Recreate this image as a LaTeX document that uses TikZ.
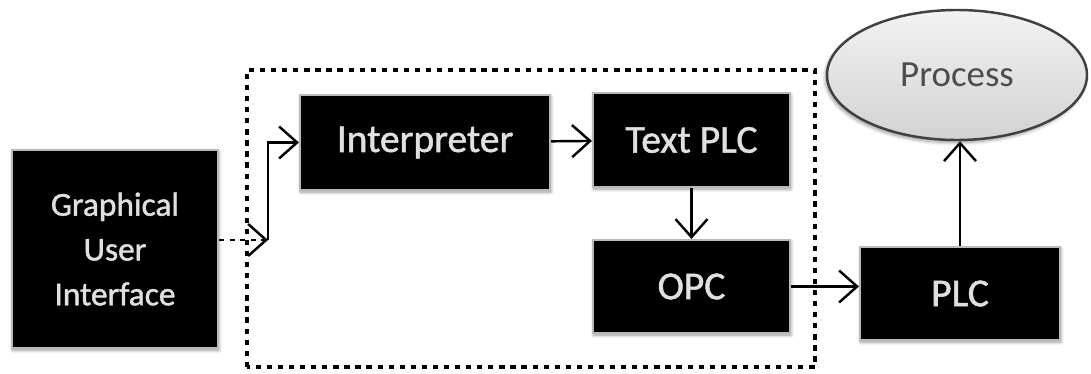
\documentclass[tikz,border=0pt]{standalone}
\usepackage{fontspec}
\setmainfont{Carlito}
\newfontfamily\boxfont[FakeBold=1.3]{Carlito}
\usetikzlibrary{arrows.meta,shapes.geometric,shadows.blur}

\tikzset{
  blackbox/.style={rectangle, fill=black, draw=gray!55, line width=1.2pt,
    text=white!88!black, font=\boxfont\fontsize{22.5}{27}\selectfont,
    blur shadow={shadow xshift=0.5pt, shadow yshift=-1.2pt, shadow blur steps=6},
    inner sep=0pt, align=center},
  flow/.style={line width=1.4pt, -{Straight Barb[length=3.6mm,width=6.4mm,line width=1.4pt]}},
  dotframe/.style={line width=2.4pt, dash pattern=on 3pt off 3.3pt}
}

\begin{document}
\begin{tikzpicture}
\useasboundingbox (0,0) rectangle (21.82,7.48);

% dotted group frame
\draw[dotframe] (4.94,0.14) rectangle (16.30,6.08);

% boxes
\node[blackbox, minimum width=4.12cm, minimum height=3.96cm,
      font=\boxfont\fontsize{19}{25.5}\selectfont] (gui) at (2.30,2.50) {Graphical\\User\\Interface};
\node[blackbox, minimum width=5.0cm, minimum height=1.9cm] (interp) at (8.50,4.63) {Interpreter};
\node[blackbox, minimum width=3.94cm, minimum height=1.88cm] (txtplc) at (13.83,4.68) {Text PLC};
\node[blackbox, minimum width=3.94cm, minimum height=1.86cm] (opc) at (13.83,1.75) {OPC};
\node[blackbox, minimum width=4.0cm, minimum height=1.86cm] (plc) at (19.20,1.61) {PLC};
\node[ellipse, minimum width=5.2cm, minimum height=2.6cm, inner sep=0pt,
      draw=black!75, line width=1.4pt, top color=gray!10, bottom color=gray!35,
      blur shadow={shadow xshift=-1pt, shadow yshift=-1.5pt, shadow blur steps=6},
      text=black!70, font=\fontsize{21}{25}\selectfont] (proc) at (19.14,5.98) {Process};

% connectors
\coordinate (jn) at (5.36,2.68);
\draw[flow, dashed] (gui.east |- jn) -- (jn);
\draw[flow] (jn) |- (interp.west);
\draw[flow] (interp) -- (txtplc);
\draw[flow] (txtplc) -- (opc);
\draw[flow] (opc.east) -- (opc.east -| plc.west);
\draw[flow] (plc.north) -- (plc.north |- proc.south);

\end{tikzpicture}
\end{document}
